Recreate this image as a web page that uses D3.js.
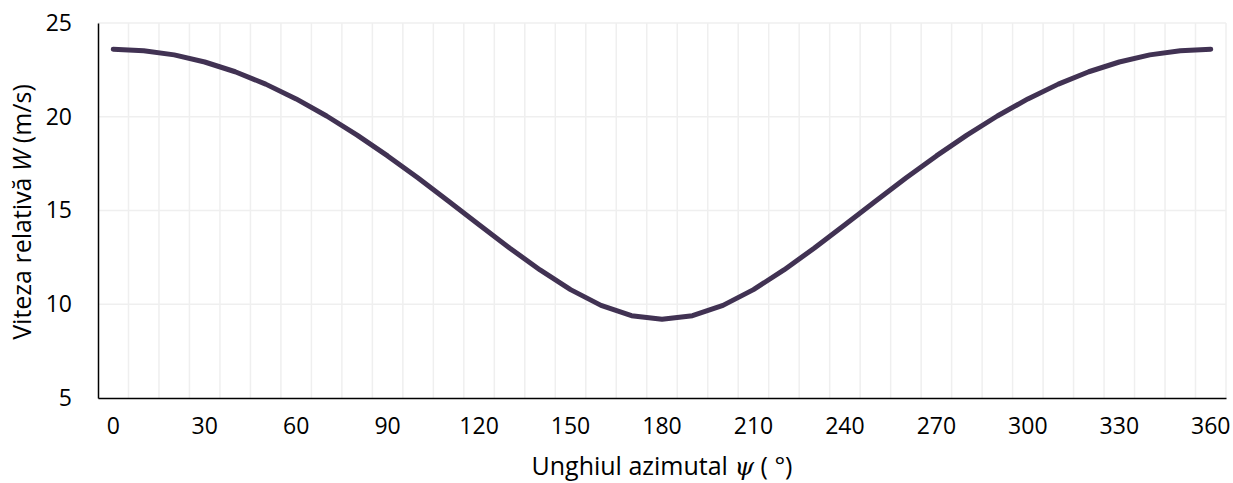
<!DOCTYPE html>
<html><head><meta charset="utf-8">
<script src="https://cdn.jsdelivr.net/npm/d3@7"></script>
<style>body{margin:0;background:#fff;}svg{display:block;font-family:"Open Sans",sans-serif;}</style>
</head><body><svg id="c" width="1233" height="483"></svg>
<script>
const angles = [0,10,20,30,40,50,60,70,80,90,100,110,120,130,140,150,160,170,180,190,200,210,220,230,240,250,260,270,280,290,300,310,320,330,340,350,360];
const speeds = [23.60,23.52,23.30,22.92,22.40,21.74,20.95,20.04,19.02,17.91,16.73,15.49,14.24,13.00,11.83,10.78,9.94,9.39,9.20,9.39,9.94,10.78,11.83,13.00,14.24,15.49,16.73,17.91,19.02,20.04,20.95,21.74,22.40,22.92,23.30,23.52,23.60];
const xTickLabels = [0,30,60,90,120,150,180,210,240,270,300,330,360];
const yTicks = [5,10,15,20,25];

const svg = d3.select("#c");
const L = 98, R = 1226, T = 23, B = 398;
const x = d3.scaleBand().domain(angles).range([L, R]).paddingInner(0).paddingOuter(0);
const y = d3.scaleLinear().domain([5, 25]).range([B, T]);

// vertical gridlines (category boundaries)
const bounds = angles.map(a => x(a)).concat([R]).slice(1);
svg.append("g").selectAll("line").data(bounds).join("line")
  .attr("x1", d => d).attr("x2", d => d).attr("y1", T).attr("y2", B)
  .attr("stroke", "#efefef").attr("stroke-width", 1.5);
// horizontal gridlines
svg.append("g").selectAll("line").data(yTicks.slice(1)).join("line")
  .attr("x1", L).attr("x2", R).attr("y1", d => y(d)).attr("y2", d => y(d))
  .attr("stroke", "#efefef").attr("stroke-width", 1.5);

// y axis
const yAx = svg.append("g").attr("transform", `translate(${L},0)`)
  .call(d3.axisLeft(y).tickValues(yTicks).tickSize(0).tickPadding(26));
yAx.select(".domain").attr("stroke", "#000").attr("stroke-width", 1.5);
yAx.selectAll("text").attr("font-size", 23).attr("fill", "#000").attr("font-family", "Open Sans");

// x axis
const xAx = svg.append("g").attr("transform", `translate(0,${B})`)
  .call(d3.axisBottom(x).tickValues(xTickLabels).tickSize(0).tickPadding(20));
xAx.select(".domain").attr("stroke", "#000").attr("stroke-width", 1.5);
xAx.selectAll("text").attr("font-size", 23).attr("fill", "#000").attr("font-family", "Open Sans");

// line
const line = d3.line().x((d, i) => x(angles[i]) + x.bandwidth() / 2).y(d => y(d));
svg.append("path").datum(speeds).attr("d", line)
  .attr("fill", "none").attr("stroke", "#413253").attr("stroke-width", 5)
  .attr("stroke-linecap", "round").attr("stroke-linejoin", "round");

// axis titles
const xt = svg.append("text").attr("x", 662).attr("y", 475)
  .attr("text-anchor", "middle").attr("font-size", 25).attr("fill", "#000");
xt.append("tspan").text("Unghiul azimutal ");
xt.append("tspan").attr("font-style", "italic").attr("font-family", "DejaVu Serif").text("ψ");
xt.append("tspan").text(" ( °)");

const yt = svg.append("text").attr("transform", `translate(31,212) rotate(-90)`)
  .attr("text-anchor", "middle").attr("font-size", 25).attr("fill", "#000");
yt.append("tspan").text("Viteza relativă ");
yt.append("tspan").attr("font-style", "italic").text("W");
yt.append("tspan").text(" (m/s)");
</script>
</body></html>
